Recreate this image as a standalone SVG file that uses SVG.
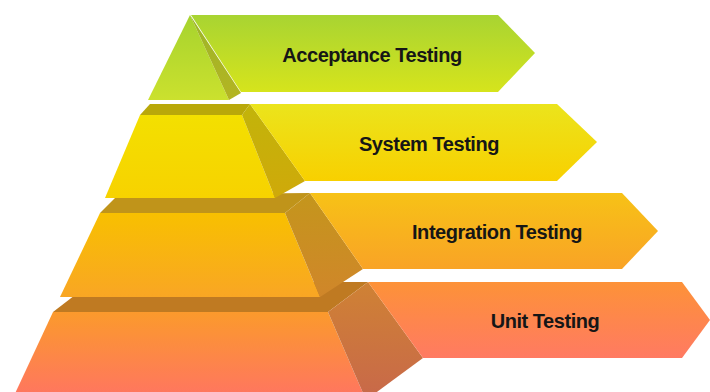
<svg xmlns="http://www.w3.org/2000/svg" width="710" height="392" viewBox="0 0 710 392">
  <defs>
    <linearGradient id="f1" x1="0" y1="0" x2="0" y2="1"><stop offset="0" stop-color="#a6d32e"/><stop offset="1" stop-color="#cbe12e"/></linearGradient>
    <linearGradient id="s1" x1="0" y1="0" x2="0" y2="1"><stop offset="0" stop-color="#9cb628"/><stop offset="1" stop-color="#b4b422"/></linearGradient>
    <linearGradient id="b1" x1="0" y1="0" x2="0" y2="1"><stop offset="0" stop-color="#a8d432"/><stop offset="1" stop-color="#d6e41c"/></linearGradient>
    <linearGradient id="f2" x1="0" y1="0" x2="0" y2="1"><stop offset="0" stop-color="#f3e000"/><stop offset="1" stop-color="#f7d200"/></linearGradient>
    <linearGradient id="s2" x1="0" y1="0" x2="0" y2="1"><stop offset="0" stop-color="#c2b40a"/><stop offset="1" stop-color="#cfa90a"/></linearGradient>
    <linearGradient id="b2" x1="0" y1="0" x2="0" y2="1"><stop offset="0" stop-color="#ebe41c"/><stop offset="1" stop-color="#f8d000"/></linearGradient>
    <linearGradient id="f3" x1="0" y1="0" x2="0" y2="1"><stop offset="0" stop-color="#f8c000"/><stop offset="1" stop-color="#f9a624"/></linearGradient>
    <linearGradient id="s3" x1="0" y1="0" x2="0" y2="1"><stop offset="0" stop-color="#c4961c"/><stop offset="1" stop-color="#d0862a"/></linearGradient>
    <linearGradient id="b3" x1="0" y1="0" x2="0" y2="1"><stop offset="0" stop-color="#f7c216"/><stop offset="1" stop-color="#f9a326"/></linearGradient>
    <linearGradient id="f4" x1="0" y1="0" x2="0" y2="1"><stop offset="0" stop-color="#fb9a2c"/><stop offset="1" stop-color="#ff7462"/></linearGradient>
    <linearGradient id="s4" x1="0" y1="0" x2="0" y2="1"><stop offset="0" stop-color="#cf8234"/><stop offset="1" stop-color="#c8684a"/></linearGradient>
    <linearGradient id="b4" x1="0" y1="0" x2="0" y2="1"><stop offset="0" stop-color="#fd9238"/><stop offset="1" stop-color="#ff7a62"/></linearGradient>
  </defs>
  <style>
    .lbl { font-family: "Liberation Sans", Arial, sans-serif; font-weight: bold; font-size: 20px; letter-spacing: -0.45px; fill: #161616; text-anchor: middle; }
  </style>
  <rect width="710" height="392" fill="#ffffff"/>

  <g id="unit-testing">
    <polygon points="92,282 368,282 328,312 53,312" fill="#bf7a22"/>
    <polygon points="53,312 328,312 366,400 12,400" fill="url(#f4)"/>
    <polygon points="328,312 368,282 423,358 366,400" fill="url(#s4)"/>
    <polygon points="368,282 682,282 710,320 682,358 423,358" fill="url(#b4)"/>
    <text class="lbl" x="545" y="328">Unit Testing</text>
  </g>

  <g id="integration-testing">
    <polygon points="118,195 310,193 285,213 100,213" fill="#c0941a"/>
    <polygon points="100,213 285,213 320,297 60,297" fill="url(#f3)"/>
    <polygon points="285,213 310,193 363,269 320,297" fill="url(#s3)"/>
    <polygon points="310,193 622,193 658,231 622,269 363,269" fill="url(#b3)"/>
    <text class="lbl" x="497" y="239">Integration Testing</text>
  </g>

  <g id="system-testing">
    <polygon points="150,104 250,104 242,115 140,115" fill="#b9a80a"/>
    <polygon points="140,115 242,115 275,198 105,198" fill="url(#f2)"/>
    <polygon points="242,115 250,104 305,181 275,198" fill="url(#s2)"/>
    <polygon points="250,104 557,104 597,142 557,181 305,181" fill="url(#b2)"/>
    <text class="lbl" x="429" y="151">System Testing</text>
  </g>

  <g id="acceptance-testing">
    <polygon points="190,15 229,100 148,100" fill="url(#f1)"/>
    <polygon points="190,15 241,93 229,100" fill="url(#s1)"/>
    <polygon points="191,15 498,15 535,53 498,92 241,92" fill="url(#b1)"/>
    <text class="lbl" x="372" y="62">Acceptance Testing</text>
  </g>
</svg>
